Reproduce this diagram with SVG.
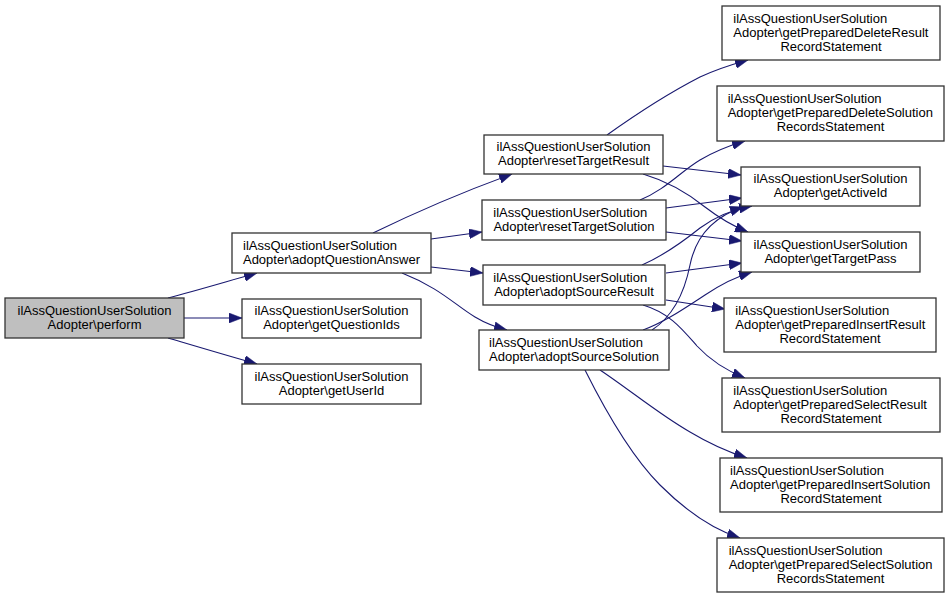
<svg xmlns="http://www.w3.org/2000/svg" width="949" height="599" viewBox="0 0 949 599">
<style>
.n rect{fill:#ffffff;stroke:#333333;stroke-width:1.3}
.root rect{fill:#bfbfbf}
.n text{font-family:"Liberation Sans",Arial,Helvetica,sans-serif;font-size:13px;fill:#000000}
.m{text-anchor:middle}
.s{text-anchor:start}
.e path{fill:none;stroke:#191970;stroke-width:1.1;marker-end:url(#ah)}
</style>
<defs>
<marker id="ah" markerUnits="userSpaceOnUse" viewBox="0 0 13 10" refX="13" refY="5" markerWidth="13" markerHeight="10" orient="auto">
<path d="M0,0 L13,5 L0,10 z" fill="#191970" stroke="#191970" stroke-width="0.5"/>
</marker>
</defs>
<rect width="949" height="599" fill="#ffffff"/>
<g class="e" id="edges">
<path d="M168,298 C195,291 225,282 257,273"/>
<path d="M184,318 L242,318"/>
<path d="M168,338 C195,346 225,355 257,364"/>
<path d="M373,233 C410,215 460,193 512,174"/>
<path d="M431,239 L482,232"/>
<path d="M431,267 L483,273"/>
<path d="M402,273 C440,288 455,305 475,317 C485,323 495,327 507,330"/>
<path d="M607,135 C635,115 665,95 700,77 C715,70 730,65 748,60"/>
<path d="M663,166 L741,175"/>
<path d="M643,174 C670,182 690,195 705,207 C718,217 730,225 748,232"/>
<path d="M640,200 C665,190 680,172 700,160 C715,151 728,146 745,141"/>
<path d="M666,208 L742,198"/>
<path d="M666,232 L742,241"/>
<path d="M642,265 C665,255 685,240 700,228 C715,217 730,210 752,206"/>
<path d="M666,273 L742,263"/>
<path d="M666,300 L725,309"/>
<path d="M643,305 C670,313 683,330 697,346 C710,360 725,370 745,378"/>
<path d="M652,330 C675,315 685,290 690,265 C695,240 710,218 743,207"/>
<path d="M643,330 C665,322 685,308 705,295 C720,285 735,277 752,272"/>
<path d="M600,370 C630,390 660,415 690,432 C710,444 728,452 747,458"/>
<path d="M585,370 C605,410 630,455 660,485 C690,515 715,530 740,538"/>
</g>
<g class="n root" id="perform">
<rect x="5" y="298" width="179" height="40"/>
<text class="m" x="94.5" y="314.8">ilAssQuestionUserSolution</text>
<text class="m" x="94.5" y="328.8">Adopter\perform</text>
</g>
<g class="n" id="adoptQuestionAnswer">
<rect x="232" y="233" width="199" height="40"/>
<text class="s" x="243" y="249.8">ilAssQuestionUserSolution</text>
<text class="m" x="331.5" y="263.8">Adopter\adoptQuestionAnswer</text>
</g>
<g class="n" id="getQuestionIds">
<rect x="242" y="299" width="179" height="39"/>
<text class="m" x="331.5" y="315.3">ilAssQuestionUserSolution</text>
<text class="m" x="331.5" y="329.3">Adopter\getQuestionIds</text>
</g>
<g class="n" id="getUserId">
<rect x="242" y="364" width="179" height="40"/>
<text class="m" x="331.5" y="380.8">ilAssQuestionUserSolution</text>
<text class="m" x="331.5" y="394.8">Adopter\getUserId</text>
</g>
<g class="n" id="resetTargetResult">
<rect x="484" y="135" width="179" height="39"/>
<text class="m" x="573.5" y="151.3">ilAssQuestionUserSolution</text>
<text class="m" x="573.5" y="165.3">Adopter\resetTargetResult</text>
</g>
<g class="n" id="resetTargetSolution">
<rect x="482" y="200" width="184" height="40"/>
<text class="s" x="493.3" y="216.8">ilAssQuestionUserSolution</text>
<text class="m" x="574" y="230.8">Adopter\resetTargetSolution</text>
</g>
<g class="n" id="adoptSourceResult">
<rect x="483" y="265" width="182" height="40"/>
<text class="s" x="493.3" y="281.8">ilAssQuestionUserSolution</text>
<text class="m" x="574" y="295.8">Adopter\adoptSourceResult</text>
</g>
<g class="n" id="adoptSourceSolution">
<rect x="479" y="330" width="190" height="40"/>
<text class="s" x="489" y="346.8">ilAssQuestionUserSolution</text>
<text class="m" x="574" y="360.8">Adopter\adoptSourceSolution</text>
</g>
<g class="n" id="getPreparedDeleteResultRecordStatement">
<rect x="722" y="6" width="218" height="54"/>
<text class="s" x="733.3" y="22.7">ilAssQuestionUserSolution</text>
<text class="s" x="733.3" y="36.7">Adopter\getPreparedDeleteResult</text>
<text class="m" x="831" y="50.7">RecordStatement</text>
</g>
<g class="n" id="getPreparedDeleteSolutionRecordsStatement">
<rect x="717" y="86" width="227" height="55"/>
<text class="s" x="727.7" y="103.2">ilAssQuestionUserSolution</text>
<text class="s" x="727.7" y="117.2">Adopter\getPreparedDeleteSolution</text>
<text class="m" x="830.5" y="131.2">RecordsStatement</text>
</g>
<g class="n" id="getActiveId">
<rect x="741" y="167" width="179" height="39"/>
<text class="m" x="830.5" y="183.3">ilAssQuestionUserSolution</text>
<text class="m" x="830.5" y="197.3">Adopter\getActiveId</text>
</g>
<g class="n" id="getTargetPass">
<rect x="741" y="232" width="179" height="40"/>
<text class="m" x="830.5" y="248.8">ilAssQuestionUserSolution</text>
<text class="m" x="830.5" y="262.8">Adopter\getTargetPass</text>
</g>
<g class="n" id="getPreparedInsertResultRecordStatement">
<rect x="724" y="298" width="212" height="54"/>
<text class="s" x="735.3" y="314.7">ilAssQuestionUserSolution</text>
<text class="s" x="735.3" y="328.7">Adopter\getPreparedInsertResult</text>
<text class="m" x="830" y="342.7">RecordStatement</text>
</g>
<g class="n" id="getPreparedSelectResultRecordStatement">
<rect x="722" y="378" width="218" height="54"/>
<text class="s" x="733.3" y="394.7">ilAssQuestionUserSolution</text>
<text class="s" x="733.3" y="408.7">Adopter\getPreparedSelectResult</text>
<text class="m" x="831" y="422.7">RecordStatement</text>
</g>
<g class="n" id="getPreparedInsertSolutionRecordStatement">
<rect x="720" y="458" width="222" height="54"/>
<text class="s" x="730" y="474.7">ilAssQuestionUserSolution</text>
<text class="s" x="730" y="488.7">Adopter\getPreparedInsertSolution</text>
<text class="m" x="831" y="502.7">RecordStatement</text>
</g>
<g class="n" id="getPreparedSelectSolutionRecordsStatement">
<rect x="717" y="538" width="227" height="54"/>
<text class="s" x="728.7" y="554.7">ilAssQuestionUserSolution</text>
<text class="s" x="728.7" y="568.7">Adopter\getPreparedSelectSolution</text>
<text class="m" x="830.5" y="582.7">RecordsStatement</text>
</g>
</svg>
